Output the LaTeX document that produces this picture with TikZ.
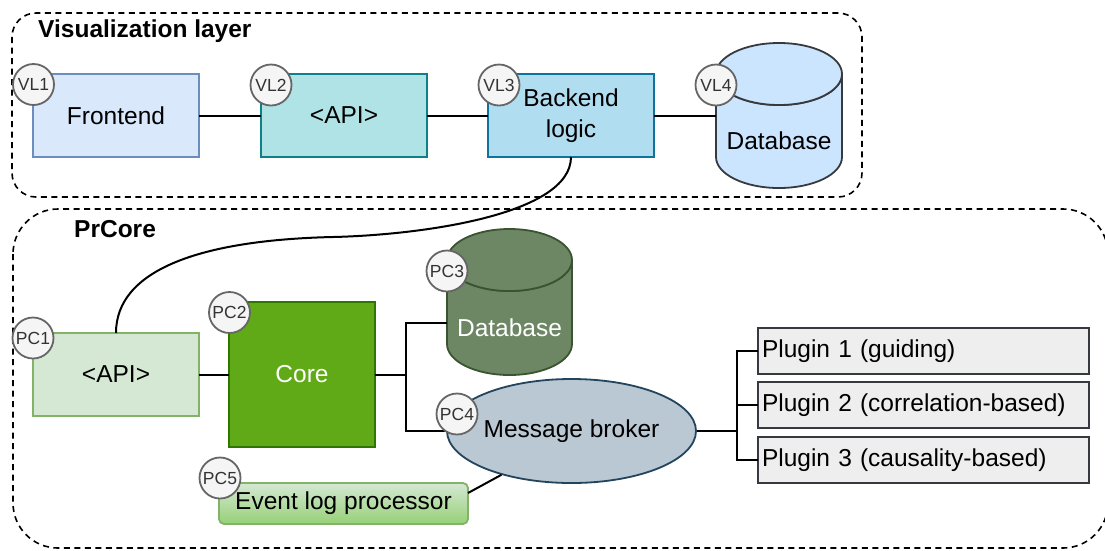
\documentclass[tikz,border=0pt]{standalone}
\usepackage{fontspec}
\setmainfont{Liberation Sans}
\usetikzlibrary{shapes.geometric,calc}
\definecolor{feF}{HTML}{DAE8FC}\definecolor{feS}{HTML}{6C8EBF}
\definecolor{apiF}{HTML}{B0E3E6}\definecolor{apiS}{HTML}{0E8088}
\definecolor{beF}{HTML}{B1DDF0}\definecolor{beS}{HTML}{10739E}
\definecolor{dbF}{HTML}{CCE5FF}\definecolor{dbS}{HTML}{36393D}
\definecolor{gF}{HTML}{D5E8D4}\definecolor{gS}{HTML}{82B366}
\definecolor{coreF}{HTML}{60A917}\definecolor{coreS}{HTML}{2D7600}
\definecolor{pdbF}{HTML}{6D8764}\definecolor{pdbS}{HTML}{3A5431}
\definecolor{mbF}{HTML}{BAC8D3}\definecolor{mbS}{HTML}{23445D}
\definecolor{elB}{HTML}{97D077}
\definecolor{plF}{HTML}{EEEEEE}\definecolor{plS}{HTML}{36393D}
\definecolor{bdF}{HTML}{F5F5F5}\definecolor{bdS}{HTML}{666666}\definecolor{bdT}{HTML}{333333}
\begin{document}
\begin{tikzpicture}[x=1pt,y=-1pt,
  font=\fontsize{24.5}{30}\selectfont,
  box/.style={draw, line width=1.8pt, inner sep=0pt, outer sep=0pt, anchor=north west, align=center},
  badge/.style={circle, draw=bdS, fill=bdF, line width=1.8pt, minimum size=41pt, inner sep=0pt, text=bdT, font=\fontsize{17.5}{19}\selectfont},
  conn/.style={line width=2pt, black},
  cont/.style={draw, dash pattern=on 6pt off 4.5pt, line width=1.6pt},
  title/.style={font=\fontsize{24.5}{28}\selectfont\bfseries, anchor=west, inner sep=0pt},
  plug/.style={box, fill=plF, draw=plS, text width=323pt, inner xsep=4pt, align=left, minimum height=46pt}]
\useasboundingbox (0,0) rectangle (1105,550);
% containers
\draw[cont, rounded corners=24pt] (12,13) rectangle (862,197);
\draw[cont, rounded corners=45pt] (13,209) rectangle (1108,548);
\node[title] (vltitle) at (38,31.5) {Visualization layer};
\node[title] (pctitle) at (74,229) {PrCore};
% visualization layer nodes
\node[box, fill=feF, draw=feS, minimum width=166pt, minimum height=83pt] (vl1) at (33,74) {Frontend};
\node[box, fill=apiF, draw=apiS, minimum width=166pt, minimum height=83pt] (vl2) at (261,74) {<API>};
\node[box, fill=beF, draw=beS, minimum width=166pt, minimum height=83pt, font=\fontsize{24.5}{31}\selectfont] (vl3) at (488,74) {Backend\\logic};
% VL database cylinder
\node[anchor=north west, minimum width=126pt, minimum height=145pt, inner sep=0pt, outer sep=0pt] (vl4) at (716,43) {};
\draw[fill=dbF, draw=dbS, line width=1.8pt] (716,74) -- (716,157) arc[start angle=180, end angle=0, x radius=63, y radius=31] -- (842,74) arc[start angle=0, end angle=180, x radius=63, y radius=31] -- cycle;
\draw[fill=dbF, draw=dbS, line width=1.8pt] (779,74) ellipse[x radius=63, y radius=31];
\node (vl4t) at (779,141) {Database};
% PrCore nodes
\node[box, fill=gF, draw=gS, minimum width=166pt, minimum height=83pt] (pc1) at (33,333) {<API>};
\node[box, fill=coreF, draw=coreS, minimum width=146pt, minimum height=145pt, text=white] (pc2) at (229,302) {Core};
\node[anchor=north west, minimum width=125pt, minimum height=146pt, inner sep=0pt, outer sep=0pt] (pc3) at (447,229) {};
\draw[fill=pdbF, draw=pdbS, line width=1.8pt] (447,260) -- (447,344) arc[start angle=180, end angle=0, x radius=62.5, y radius=31] -- (572,260) arc[start angle=0, end angle=180, x radius=62.5, y radius=31] -- cycle;
\draw[fill=pdbF, draw=pdbS, line width=1.8pt] (509.5,260) ellipse[x radius=62.5, y radius=31];
\node[text=white] (pc3t) at (509.5,328) {Database};
\node[ellipse, draw=mbS, fill=mbF, line width=1.8pt, minimum width=249pt, minimum height=104pt, inner sep=0pt] (mb) at (571.5,431) {Message broker};
\node[box, draw=gS, top color=gF, bottom color=elB, rounded corners=5pt, minimum width=249pt, minimum height=41pt] (elp) at (219,483) {Event log processor};
\node[plug] (p1) at (758,328) {Plugin 1 (guiding)};
\node[plug] (p2) at (758,382) {Plugin 2 (correlation-based)};
\node[plug] (p3) at (758,437) {Plugin 3 (causality-based)};
% connectors
\draw[conn] (vl1.east) -- (vl2.west);
\draw[conn] (vl2.east) -- (vl3.west);
\draw[conn] (vl3.east) -- (vl3.east -| vl4.west);
\coordinate (bend) at (333,237);
\draw[conn] (vl3.south) .. controls +(0,58) and (420,235) .. (bend) .. controls (200,240) and (116,270) .. (pc1.north);
\draw[conn] (pc1.east) -- (pc2.west);
\coordinate (jc) at ($(pc2.east)+(31,0)$);
\draw[conn] (pc2.east) -- (jc) |- ([yshift=-21pt]pc3.west);
\draw[conn] (jc) |- (mb.west);
\coordinate (jp) at (737,431);
\draw[conn] (mb.east) -- (jp) |- (p1.west);
\draw[conn] (jp) |- (p2.west);
\draw[conn] (jp) |- (p3.west);
\draw[conn] ([yshift=10.5pt]elp.east) -- (mb.212);
% badges
\node[badge] (b1) at (33.5,84.5) {VL1};
\node[badge] (b2) at (271,85) {VL2};
\node[badge] (b3) at (499,85) {VL3};
\node[badge] (b4) at (716,85) {VL4};
\node[badge] (b5) at (33,338) {PC1};
\node[badge] (b6) at (229.5,312.5) {PC2};
\node[badge] (b7) at (447,271) {PC3};
\node[badge] (b8) at (457,414) {PC4};
\node[badge] (b9) at (220,478) {PC5};
\end{tikzpicture}
\end{document}
